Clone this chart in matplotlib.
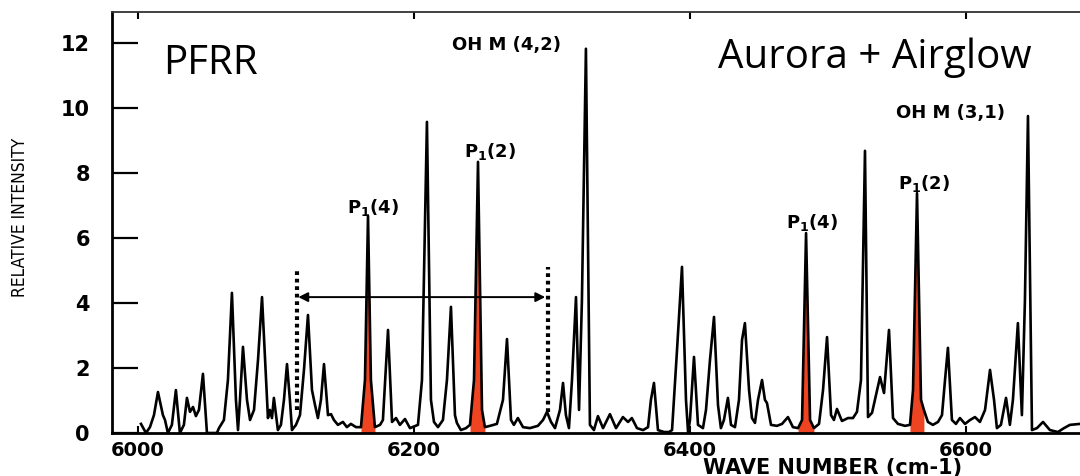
import matplotlib
matplotlib.use("Agg")
import matplotlib.pyplot as plt
import numpy as np

# ---- data (wave number in cm-1, relative intensity) ----
wave_number = [
    6002.2, 6005.8, 6008.7, 6011.6, 6014.5, 6018.1, 6019.6, 6021.7, 6024.6, 6027.5,
    6030.4, 6033.3, 6035.5, 6037.7, 6039.9, 6042.0, 6044.2, 6047.1, 6050.0, 6057.2,
    6058.7, 6062.3, 6065.2, 6068.1, 6071.0, 6072.5, 6073.9, 6076.1, 6079.0, 6081.2,
    6084.1, 6087.0, 6089.9, 6092.8, 6094.2, 6095.6, 6097.1, 6098.5, 6101.4, 6103.6,
    6105.8, 6108.0, 6110.1, 6111.6, 6114.5, 6117.4, 6120.3, 6123.2, 6126.1, 6128.3,
    6130.4, 6132.6, 6134.8, 6137.7, 6139.9, 6142.0, 6144.9, 6148.5, 6151.4, 6154.3,
    6158.0, 6161.6, 6164.5, 6166.7, 6168.8, 6171.7, 6175.4, 6177.5, 6181.2, 6184.1,
    6187.0, 6189.8, 6193.5, 6197.1, 6202.9, 6205.8, 6209.4, 6212.3, 6214.5, 6217.4,
    6221.0, 6223.9, 6226.8, 6229.7, 6231.1, 6234.0, 6237.7, 6240.6, 6243.5, 6246.4,
    6249.3, 6251.4, 6255.1, 6260.1, 6264.5, 6267.4, 6270.3, 6272.4, 6275.3, 6279.0,
    6284.0, 6289.8, 6293.5, 6296.4, 6299.3, 6302.2, 6305.8, 6308.0, 6310.1, 6312.3,
    6314.5, 6317.4, 6319.6, 6321.7, 6324.6, 6327.5, 6330.4, 6333.3, 6337.0, 6342.0,
    6346.4, 6351.4, 6355.1, 6357.9, 6361.6, 6366.0, 6369.6, 6371.7, 6373.9, 6376.8,
    6381.2, 6384.8, 6387.0, 6390.6, 6394.2, 6397.1, 6398.6, 6400.0, 6402.9, 6405.8,
    6409.4, 6411.6, 6414.5, 6417.4, 6420.3, 6422.4, 6424.6, 6427.5, 6429.7, 6432.6,
    6435.5, 6437.7, 6439.8, 6442.8, 6444.9, 6447.1, 6449.3, 6452.2, 6454.3, 6455.8,
    6458.7, 6463.0, 6466.7, 6471.0, 6474.6, 6478.3, 6481.2, 6484.1, 6487.0, 6489.8,
    6493.5, 6496.4, 6499.3, 6502.2, 6504.3, 6506.5, 6510.1, 6514.5, 6518.1, 6521.0,
    6523.9, 6526.8, 6529.0, 6531.9, 6534.8, 6537.7, 6540.6, 6544.2, 6547.1, 6550.7,
    6555.8, 6559.4, 6561.6, 6564.5, 6567.4, 6569.5, 6572.4, 6576.0, 6579.7, 6582.6,
    6584.8, 6586.9, 6589.8, 6592.7, 6595.6, 6599.3, 6602.9, 6606.5, 6610.1, 6613.8,
    6617.4, 6620.3, 6622.4, 6625.3, 6629.0, 6631.8, 6634.0, 6637.6, 6640.5, 6642.7,
    6644.9, 6647.8, 6651.4, 6655.8, 6660.8, 6666.6, 6671.0, 6675.3, 6682.6,
]
intensity = [
    0.28, 0.00, 0.18, 0.55, 1.26, 0.55, 0.40, 0.00, 0.25, 1.32,
    0.00, 0.25, 1.08, 0.65, 0.80, 0.52, 0.71, 1.82, 0.00, 0.00,
    0.15, 0.40, 1.63, 4.31, 1.02, 0.09, 1.00, 2.65, 1.02, 0.40,
    0.71, 2.25, 4.18, 1.63, 0.46, 0.71, 0.46, 1.08, 0.09, 0.25,
    1.02, 2.12, 1.02, 0.09, 0.25, 0.55, 1.94, 3.63, 1.32, 0.86,
    0.46, 1.02, 2.12, 0.55, 0.58, 0.40, 0.25, 0.34, 0.18, 0.28,
    0.18, 0.18, 1.63, 6.68, 1.63, 0.18, 0.25, 0.40, 3.17, 0.34,
    0.46, 0.25, 0.43, 0.15, 0.25, 1.63, 9.57, 1.02, 0.34, 0.18,
    0.40, 1.63, 3.88, 0.55, 0.31, 0.09, 0.15, 0.25, 1.63, 8.34,
    0.71, 0.18, 0.22, 0.28, 1.02, 2.89, 0.40, 0.25, 0.46, 0.18,
    0.15, 0.22, 0.40, 0.65, 0.34, 0.15, 0.71, 1.54, 0.55, 0.15,
    1.63, 4.18, 0.71, 4.09, 11.82, 0.25, 0.09, 0.52, 0.15, 0.58,
    0.15, 0.49, 0.34, 0.46, 0.15, 0.09, 0.18, 1.02, 1.54, 0.09,
    0.03, 0.03, 0.09, 2.55, 5.11, 1.02, 0.03, 0.40, 2.34, 0.25,
    0.15, 0.71, 2.25, 3.57, 0.86, 0.15, 0.40, 1.08, 0.25, 0.18,
    1.02, 2.86, 3.38, 1.32, 0.46, 0.31, 1.02, 1.63, 1.02, 0.92,
    0.25, 0.22, 0.28, 0.49, 0.18, 0.15, 0.40, 6.15, 0.40, 0.15,
    0.28, 1.32, 2.95, 0.55, 0.40, 0.74, 0.37, 0.46, 0.46, 0.65,
    1.63, 8.68, 0.49, 0.62, 1.17, 1.72, 1.23, 3.17, 0.46, 0.28,
    0.22, 0.25, 1.32, 7.38, 1.02, 0.71, 0.34, 0.25, 0.34, 0.55,
    1.63, 2.62, 0.40, 0.28, 0.46, 0.28, 0.40, 0.49, 0.34, 0.71,
    1.94, 1.02, 0.15, 0.25, 1.08, 0.25, 1.02, 3.38, 0.55, 4.09,
    9.75, 0.09, 0.15, 0.34, 0.09, 0.03, 0.15, 0.25, 0.28,
]

# highlighted (red) P1 lines
red_peaks = [6166.7, 6246.4, 6484.1, 6564.5]

# peak labels
label_texts = ["OH M (4,2)", r"P$_{\mathbf{1}}$(2)", r"P$_{\mathbf{1}}$(4)",
               "OH M (3,1)", r"P$_{\mathbf{1}}$(2)", r"P$_{\mathbf{1}}$(4)"]
label_x = [6267.4, 6255.1, 6170.3, 6589.1, 6569.5, 6488.4]
label_y = [11.94, 8.65, 6.95, 9.85, 7.69, 6.46]

# integration window (dotted markers + double arrow)
window_x = [6115.2, 6297.1]
window_ymin = [0.70, 0.65]
window_ymax = [5.0, 5.1]
arrow_y = 4.18

x_ticks = [6000, 6200, 6400, 6600]
y_ticks = [0, 2, 4, 6, 8, 10, 12]

# ---- figure ----
W, H = 1080, 476
fig = plt.figure(figsize=(W / 100, H / 100), dpi=100)
ax = fig.add_axes([112 / W, 1 - 433 / H, (W - 112) / W, (433 - 12) / H])

wn = np.array(wave_number)
it = np.array(intensity)

red = "#ee4422"
for p in red_peaks:
    m = np.abs(wn - p) <= 6.2
    ax.fill_between(wn[m], it[m], 0, color=red, lw=0, zorder=2)

ax.plot(wn, it, color="black", lw=1.9, zorder=3)

ax.vlines(window_x, window_ymin, window_ymax, colors="black",
          linestyles=(0, (0.9, 0.9)), lw=3.0, zorder=3)
ax.annotate("", xy=(window_x[0] + 1.0, arrow_y), xytext=(window_x[1] - 2.0, arrow_y),
            arrowprops=dict(arrowstyle="<|-|>", color="black", lw=1.4,
                            mutation_scale=14, shrinkA=0, shrinkB=0), zorder=4)

for t, x, y in zip(label_texts, label_x, label_y):
    ax.text(x, y, t, ha="center", va="center", fontsize=13, fontweight="bold",
            family="DejaVu Sans", zorder=5)

ax.set_xlim(5981.2, 6682.6)
ax.set_ylim(0, 12.95)

ax.spines["right"].set_visible(False)
for s in ["left", "bottom"]:
    ax.spines[s].set_linewidth(2.0)
ax.spines["top"].set_linewidth(1.3)
ax.spines["top"].set_color("#333333")

ax.set_yticks(y_ticks)
ax.set_yticklabels([str(v) for v in y_ticks])
ax.set_xticks(x_ticks)
ax.set_xticklabels([str(v) for v in x_ticks])
ax.tick_params(axis="y", direction="in", length=19, width=1.6, pad=16,
               labelsize=15)
ax.tick_params(axis="x", direction="in", length=5, width=1.5, pad=6,
               labelsize=14, top=True)
for lab in ax.get_xticklabels() + ax.get_yticklabels():
    lab.set_fontweight("bold")
    lab.set_family("DejaVu Sans")

fig.text(20 / W, 1 - 217 / H, "RELATIVE INTENSITY", rotation=90, ha="center",
         va="center", fontsize=12.5, fontstretch="condensed",
         family=["DejaVu Sans"])
fig.text(703 / W, 1 - 468 / H, "WAVE NUMBER (cm-1)", ha="left", va="center",
         fontsize=15, fontweight="bold", family="DejaVu Sans")

fig.text(163 / W, 1 - 74 / H, "PFRR", ha="left", va="baseline", fontsize=29,
         family=["Open Sans", "DejaVu Sans"])
fig.text(718 / W, 1 - 68 / H, "Aurora + Airglow", ha="left", va="baseline",
         fontsize=29, family=["Open Sans", "DejaVu Sans"])

fig.savefig("out.png", dpi=100)
